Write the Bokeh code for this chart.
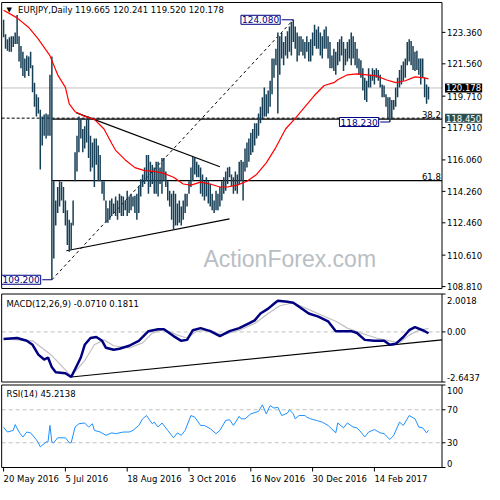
from bokeh.plotting import figure
from bokeh.models import Range1d, Label, BoxAnnotation
from bokeh.layouts import column
from bokeh.embed import file_html
from bokeh.resources import INLINE
from bokeh.core.properties import value

# ---------------- data ----------------
highs = [124.08, 123.25, 122.97, 123.08, 123.14, 123.14, 123.36, 124.36, 123.14, 122.58,
         122.25, 121.87, 122.03, 121.98, 122.25, 121.48, 120.48, 119.82, 119.65, 118.93,
         118.55, 118.66, 118.71, 118.66, 120.93, 121.98, 114.84, 113.74, 114.51, 114.84,
         114.79, 114.51, 113.74, 113.18, 112.63, 112.46, 113.74, 116.50, 117.44, 118.55,
         118.44, 117.83, 117.99, 118.38, 118.55, 117.44, 117.05, 117.28, 117.28, 116.89,
         116.34, 114.84, 114.84, 113.74, 113.29, 113.74, 113.85, 113.57, 113.96, 113.74,
         114.12, 114.01, 113.96, 113.74, 114.29, 113.96, 114.12, 113.96, 114.01, 114.12,
         114.57, 114.95, 115.23, 115.62, 116.34, 116.34, 115.95, 115.78, 115.62, 115.95,
         115.95, 115.62, 116.17, 116.17, 115.40, 114.84, 114.29, 114.12, 114.29, 114.12,
         113.57, 113.74, 113.40, 113.74, 114.12, 114.12, 114.84, 115.62, 116.23, 116.17,
         115.95, 115.78, 115.62, 115.23, 114.84, 115.07, 114.84, 114.68, 114.12, 113.74,
         114.29, 114.12, 114.51, 114.84, 115.07, 115.40, 115.62, 115.67, 115.23, 115.07,
         115.40, 115.23, 115.95, 116.06, 115.95, 116.72, 117.05, 117.28, 117.61, 117.83,
         118.16, 118.16, 118.71, 119.10, 119.65, 120.21, 119.82, 120.04, 120.59, 121.87,
         121.87, 122.42, 123.36, 123.14, 123.36, 122.81, 123.14, 123.42, 123.69, 123.97,
         124.08, 123.69, 123.36, 123.14, 123.14, 122.97, 122.81, 123.14, 122.81, 122.97,
         123.36, 123.80, 123.53, 123.69, 123.36, 123.14, 123.53, 123.69, 123.14, 122.81,
         122.03, 122.42, 122.25, 122.81, 122.97, 123.14, 122.81, 122.42, 122.81, 122.97,
         123.36, 123.14, 122.81, 122.42, 121.87, 121.76, 121.31, 120.76, 120.59, 121.31,
         120.93, 121.31, 121.20, 121.31, 121.20, 120.93, 120.37, 120.32, 119.82, 119.65,
         119.65, 119.49, 119.49, 120.21, 120.76, 121.20, 121.48, 121.70, 121.87, 122.81,
         122.97, 122.86, 122.58, 122.25, 122.31, 121.87, 121.87, 121.87, 120.76, 120.37,
         120.241]
lows = [123.08, 122.42, 122.31, 122.25, 122.25, 122.53, 122.70, 122.70, 121.70, 121.31,
        120.87, 120.76, 121.15, 120.87, 121.31, 119.93, 119.10, 118.55, 118.71, 115.51,
        116.89, 117.44, 117.28, 117.44, 117.44, 109.20, 110.42, 112.30, 113.02, 113.40,
        113.74, 113.02, 112.30, 111.19, 110.80, 110.92, 112.30, 114.84, 115.40, 116.50,
        117.28, 116.50, 116.72, 117.05, 116.17, 115.40, 115.62, 114.51, 115.78, 114.84,
        114.84, 114.12, 113.74, 112.46, 112.46, 112.63, 112.85, 113.02, 112.85, 112.63,
        113.02, 112.85, 112.85, 113.18, 112.85, 113.02, 113.18, 113.40, 113.02, 112.63,
        113.02, 113.96, 114.51, 114.68, 114.84, 114.12, 114.51, 114.68, 114.12, 114.12,
        113.96, 114.68, 114.12, 114.84, 114.51, 113.74, 113.40, 112.63, 112.08, 112.30,
        112.30, 112.46, 112.30, 112.63, 113.02, 113.40, 114.12, 114.51, 114.84, 115.23,
        115.07, 115.07, 114.12, 113.96, 113.74, 113.96, 113.57, 113.40, 113.18, 113.02,
        113.18, 113.18, 113.40, 113.74, 114.12, 114.29, 114.68, 115.07, 114.57, 114.12,
        114.29, 114.12, 114.68, 114.84, 113.74, 115.40, 115.62, 115.95, 116.34, 116.50,
        116.89, 117.28, 117.44, 118.16, 118.44, 118.55, 118.55, 118.71, 119.10, 119.82,
        120.76, 121.48, 118.71, 120.93, 121.87, 121.48, 122.03, 121.87, 122.25, 122.03,
        122.81, 122.42, 121.70, 122.03, 122.25, 122.03, 121.87, 122.25, 121.70, 121.70,
        122.03, 122.58, 122.42, 122.42, 122.03, 121.87, 122.42, 122.42, 121.87, 121.31,
        121.31, 121.15, 120.93, 121.48, 121.70, 122.03, 121.15, 121.48, 121.70, 121.87,
        121.48, 121.87, 121.48, 121.31, 120.93, 120.76, 120.04, 119.49, 119.38, 120.21,
        120.21, 120.59, 120.37, 120.76, 120.59, 120.21, 119.65, 119.65, 119.10, 118.44,
        118.23, 118.38, 118.93, 119.10, 119.65, 120.21, 120.37, 120.59, 120.76, 121.48,
        121.70, 121.48, 121.20, 121.15, 121.20, 120.93, 120.37, 120.76, 119.65, 119.27,
        119.52]

ma_idx = [0, 7, 13, 18, 24, 28, 32, 34, 37, 42, 47, 52, 56, 58, 63, 68, 73, 78, 83, 88,
          93, 97, 102, 107, 112, 116, 121, 126, 131, 136, 141, 146, 151, 156, 161, 166,
          171, 173, 178, 183, 188, 193, 198, 203, 208, 213, 218, 220]
ma_val = [124.63, 124.19, 123.64, 122.97, 122.03, 120.93, 120.21, 119.27, 118.82, 118.55,
          118.38, 117.83, 117.00, 116.61, 116.06, 115.62, 115.45, 115.40, 115.29, 115.07,
          114.68, 114.62, 114.79, 114.68, 114.51, 114.51, 114.62, 114.84, 115.23, 115.89,
          116.78, 117.83, 118.44, 119.10, 119.76, 120.32, 120.48, 120.65, 120.93, 120.98,
          120.93, 120.87, 120.65, 120.48, 120.59, 120.81, 120.76, 120.70]

macd_idx = [0, 7, 12, 15, 18, 21, 23, 25, 27, 32, 35, 37, 40, 42, 45, 48, 51, 53, 57, 60,
            65, 70, 75, 80, 83, 88, 92, 95, 98, 102, 107, 112, 117, 122, 127, 130, 133, 137,
            140, 142, 147, 150, 153, 158, 163, 168, 172, 175, 180, 183, 187, 192, 197, 200,
            203, 207, 210, 213, 217, 220]
macd_val = [-0.37, -0.32, -0.47, -0.68, -1.20, -1.46, -1.35, -1.87, -2.13, -2.18, -2.38,
            -1.97, -1.35, -0.68, -0.32, -0.27, -0.47, -0.84, -0.94, -0.89, -0.73, -0.47,
            0.04, 0.14, 0.14, -0.22, -0.47, -0.42, 0.09, 0.20, 0.04, -0.22, 0.04, 0.20, 0.45,
            0.61, 0.97, 1.23, 1.49, 1.64, 1.59, 1.54, 1.33, 0.97, 0.81, 0.56, 0.04, 0.04,
            0.04, -0.06, -0.42, -0.47, -0.47, -0.68, -0.63, -0.27, 0.09, 0.25, 0.09, -0.071]
sig_idx = [0, 15, 25, 35, 42, 47, 52, 57, 65, 72, 77, 83, 90, 95, 100, 107, 113, 122, 130,
           137, 143, 150, 157, 165, 172, 178, 185, 193, 200, 205, 210, 215, 220]
sig_val = [-0.37, -0.47, -1.25, -2.33, -1.51, -0.68, -0.42, -0.73, -0.84, -0.58, -0.06,
           0.14, -0.17, -0.32, 0.04, 0.09, -0.17, 0.09, 0.45, 0.97, 1.38, 1.54, 1.23, 0.87,
           0.56, 0.20, -0.06, -0.32, -0.47, -0.58, -0.17, 0.09, 0.1811]

rsi_idx = [0, 2, 5, 6, 8, 10, 12, 14, 17, 18, 19, 22, 23, 24, 25, 26, 28, 32, 34, 35, 37,
           39, 42, 44, 46, 47, 50, 53, 56, 58, 62, 65, 67, 70, 72, 74, 77, 78, 80, 82, 85,
           88, 90, 92, 94, 97, 99, 102, 104, 107, 110, 112, 115, 117, 119, 122, 123, 125,
           128, 132, 134, 136, 138, 140, 142, 144, 147, 148, 150, 151, 153, 156, 157, 159,
           162, 165, 168, 172, 173, 176, 178, 181, 183, 185, 187, 189, 192, 195, 197, 200,
           202, 205, 207, 210, 213, 215, 217, 219, 220]
rsi_val = [48.8, 43, 45, 52, 43, 37, 43, 42, 33.5, 30, 25, 31, 31, 51, 31, 30, 36, 36, 30,
           30, 49, 53, 54, 49, 53, 45, 43, 39, 42, 41, 43, 43, 45, 51, 59, 63, 53, 55, 49,
           54, 45, 36, 42, 39, 45, 63, 61, 51, 51, 47, 41, 45, 57, 58, 51, 62, 59, 59, 65,
           68, 76, 65, 75, 72, 73, 63, 66, 70, 65, 59, 63, 63, 61, 59, 57, 55, 51, 42, 54,
           48, 54, 49, 48, 43, 37, 43, 46, 42, 41, 34, 39, 55, 51, 63, 59, 49, 48, 42, 45.2138]

price_ticks = [108.81, 110.61, 112.46, 114.26, 116.06, 117.91, 119.71, 121.56, 123.36]
macd_ticks = [-2.6437, 0.0, 2.0018]
macd_tick_labels = ["-2.6437", "0.00", "2.0018"]
rsi_ticks = [0, 30, 70, 100]
date_idx = [0, 32, 64, 96, 128, 160, 192]
date_labels = ["20 May 2016", "5 Jul 2016", "18 Aug 2016", "3 Oct 2016",
               "16 Nov 2016", "30 Dec 2016", "14 Feb 2017"]

price_lo, price_hi = 108.70, 125.07
last_close = 120.178
hline = 118.45
swing_low, swing_low_i = 109.20, 25
swing_high, swing_high_i = 124.08, 150
recent_low, recent_low_i = 118.23, 200
fib38, fib62 = 118.40, 114.88
tri_upper = ([37.5, 112], [118.77, 115.67])
tri_lower = ([32.5, 117], [110.86, 112.69])
macd_trend = ([35, 227], [-2.38, -0.42])

# ---------------- styling ----------------
FONT = "DejaVu Sans"
FS = "8.5px"
BAR = "#173f56"
NAVY = "#000080"
SILVER = "#c0c0c0"
X_LEFT, X_RIGHT = -1.0, 227.0          # plotting box edges (bar index units)
xr = Range1d(-1.6, 249)
PXU = (249 + 1.6) / 484.0              # x units per pixel
idx = list(range(len(highs)))


def panel(h, lo, hi, pad_top_px, pad_bot_px, box_px):
    upx = (hi - lo) / box_px
    yr = Range1d(lo - pad_bot_px * upx, hi + pad_top_px * upx)
    p = figure(width=484, height=h, x_range=xr, y_range=yr, output_backend="svg",
               toolbar_location=None, x_axis_location=None, y_axis_location=None,
               min_border=0, min_border_left=0, min_border_right=0, min_border_top=0,
               min_border_bottom=0)
    p.xgrid.visible = False
    p.ygrid.visible = False
    p.outline_line_color = None
    p.add_layout(BoxAnnotation(left=X_LEFT, right=X_RIGHT, bottom=lo, top=hi,
                               fill_alpha=0, line_color="black", line_alpha=1,
                               line_width=1, line_dash="solid"))
    return p, upx


def right_axis(p, ticks, labels, baseline="middle", y_offset=0):
    n = len(ticks)
    p.segment(x0=[X_RIGHT] * n, y0=ticks, x1=[X_RIGHT + 3.5 * PXU] * n, y1=ticks,
              line_color="black", line_width=1)
    p.text(x=[X_RIGHT + 5 * PXU] * n, y=ticks, text=labels, text_align="left",
           text_baseline=baseline, text_font=value(FONT), text_font_size=FS,
           text_color="black", y_offset=y_offset)


# ---------------- main price panel ----------------
p1, _ = panel(292, price_lo, price_hi, 2, 4, 286)
right_axis(p1, price_ticks, [f"{t:.3f}" for t in price_ticks])

p1.text(x=[103.5], y=[110.4], text=["ActionForex.com"], text_font=value("Liberation Sans"),
        text_font_size="23px", text_color="#b9bec3", text_baseline="middle")

p1.segment(x0=[X_LEFT], y0=[last_close], x1=[X_RIGHT], y1=[last_close], line_color=SILVER,
           line_width=1)
p1.segment(x0=[X_LEFT], y0=[hline], x1=[X_RIGHT], y1=[hline], line_color="black",
           line_width=1, line_dash="3 2")
p1.segment(x0=[swing_low_i, swing_low_i], y0=[fib38, fib62], x1=[X_RIGHT, X_RIGHT],
           y1=[fib38, fib62], line_color="black", line_width=1.2)
p1.segment(x0=[swing_low_i], y0=[swing_low], x1=[swing_high_i], y1=[swing_high],
           line_color="black", line_width=1, line_dash="3 3")
p1.line(tri_upper[0], tri_upper[1], line_color="black", line_width=1.2)
p1.line(tri_lower[0], tri_lower[1], line_color="black", line_width=1.2)

p1.segment(x0=idx, y0=lows, x1=idx, y1=highs, line_color=BAR, line_width=1.5)
p1.line(ma_idx, ma_val, line_color="red", line_width=1.2)

p1.text(x=[X_RIGHT - 0.6, X_RIGHT - 0.6], y=[fib38, fib62], text=["38.2", "61.8"],
        text_align="right", text_baseline="bottom", text_font=value(FONT),
        text_font_size=FS, text_color="black", y_offset=-1)

# swing labels with connectors
p1.segment(x0=[swing_high_i - 6, swing_low_i - 5, recent_low_i - 5],
           y0=[swing_high, swing_low, recent_low],
           x1=[swing_high_i, swing_low_i, recent_low_i],
           y1=[swing_high, swing_low, recent_low], line_color=NAVY, line_width=1)
for xi, yv in [(swing_high_i - 6.8, swing_high), (swing_low_i - 5.8, swing_low),
               (recent_low_i - 5.8, recent_low)]:
    p1.add_layout(Label(x=xi, y=yv, text=f"{yv:.3f}", text_align="right",
                        text_baseline="middle", text_font=FONT, text_font_size="9px",
                        text_color=NAVY, background_fill_color="white",
                        border_line_color=NAVY, border_line_width=1, padding=1))

# price boxes on the axis
p1.text(x=[X_RIGHT + 3 * PXU], y=[last_close], text=[f"{last_close:.3f}"], text_align="left",
        text_baseline="middle", text_font=value(FONT), text_font_size=FS, text_color="white",
        background_fill_color="black", padding=1)
p1.text(x=[X_RIGHT + 3 * PXU], y=[hline], text=[f"{hline:.3f}"], text_align="left",
        text_baseline="middle", text_font=value(FONT), text_font_size=FS, text_color="white",
        background_fill_color="#2f4f4f", padding=1)

p1.text(x=[1.5], y=[124.62], text=["\u25bc"], text_font=value(FONT), text_font_size="7px",
        text_color="black", text_baseline="middle")
p1.text(x=[7.5], y=[124.62], text=["EURJPY,Daily  119.665 120.241 119.520 120.178"],
        text_font=value(FONT), text_font_size=FS, text_color="black", text_baseline="middle")

# ---------------- MACD panel ----------------
p2, _ = panel(91, macd_ticks[0], macd_ticks[-1], 1.5, 1.5, 88)
right_axis(p2, [macd_ticks[1]], [macd_tick_labels[1]])
right_axis(p2, [macd_ticks[2]], [macd_tick_labels[2]], baseline="top", y_offset=3)
right_axis(p2, [macd_ticks[0]], [macd_tick_labels[0]], baseline="bottom", y_offset=-1)
p2.segment(x0=[X_LEFT], y0=[0], x1=[X_RIGHT], y1=[0], line_color=SILVER, line_width=1,
           line_dash="4 3")
p2.line(macd_trend[0], macd_trend[1], line_color="black", line_width=1.2)
p2.line(sig_idx, sig_val, line_color=SILVER, line_width=1.2)
p2.line(macd_idx, macd_val, line_color=NAVY, line_width=2.5)
p2.text(x=[1.5], y=[1.45], text=["MACD(12,26,9) -0.0710 0.1811"], text_font=value(FONT),
        text_font_size=FS, text_color="black", text_baseline="middle")

# ---------------- RSI panel ----------------
p3, rsi_upx = panel(101, 0, 100, 1.5, 17, 82.5)
right_axis(p3, rsi_ticks[1:3], [str(t) for t in rsi_ticks[1:3]])
right_axis(p3, [rsi_ticks[3]], [str(rsi_ticks[3])], baseline="top", y_offset=2)
right_axis(p3, [rsi_ticks[0]], [str(rsi_ticks[0])], baseline="bottom", y_offset=-1)
p3.segment(x0=[X_LEFT, X_LEFT], y0=[30, 70], x1=[X_RIGHT, X_RIGHT], y1=[30, 70],
           line_color=SILVER, line_width=1, line_dash="4 3")
p3.line(rsi_idx, rsi_val, line_color="#1e90ff", line_width=1)
p3.text(x=[1.5], y=[89], text=["RSI(14) 45.2138"], text_font=value(FONT), text_font_size=FS,
        text_color="black", text_baseline="middle")
# date axis: outward tick marks and left-aligned labels under the box
n = len(date_idx)
p3.segment(x0=date_idx, y0=[0] * n, x1=date_idx, y1=[-4 * rsi_upx] * n, line_color="black",
           line_width=1)
p3.text(x=date_idx, y=[0] * n, text=date_labels, text_align="left", text_baseline="top",
        text_font=value(FONT), text_font_size=FS, text_color="black", y_offset=6)

layout = column(p1, p2, p3, spacing=0)
open("out.html", "w").write(file_html(layout, INLINE))
